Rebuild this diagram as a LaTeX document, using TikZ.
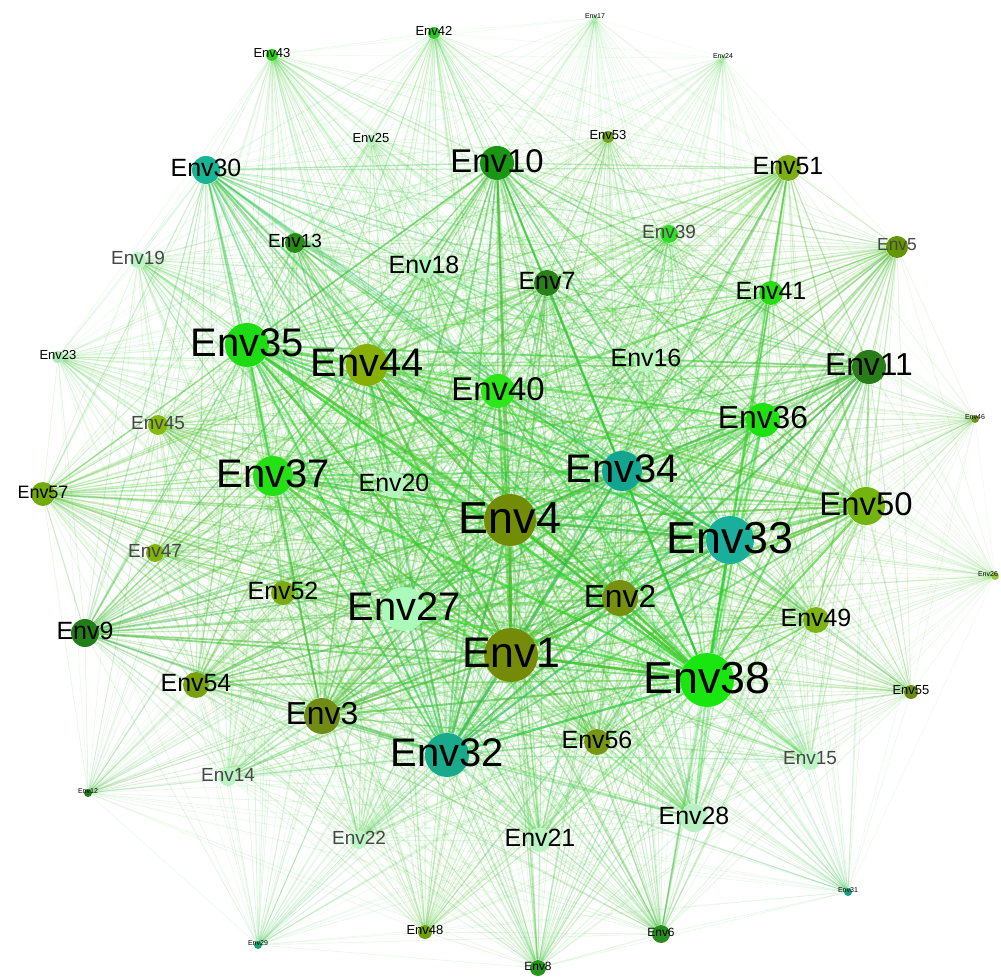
\documentclass[tikz,border=0pt]{standalone}
\usepackage{fontspec}
\setmainfont{Liberation Sans}
\pgfdeclarelayer{edges}
\pgfsetlayers{edges,main}
\definecolor{c1}{RGB}{118,138,10}
\definecolor{c2}{RGB}{118,145,15}
\definecolor{c3}{RGB}{112,140,20}
\definecolor{c4}{RGB}{115,140,5}
\definecolor{c5}{RGB}{100,150,0}
\definecolor{c6}{RGB}{40,140,30}
\definecolor{c7}{RGB}{40,130,25}
\definecolor{c8}{RGB}{40,150,30}
\definecolor{c9}{RGB}{35,125,25}
\definecolor{c10}{RGB}{25,150,20}
\definecolor{c11}{RGB}{40,125,25}
\definecolor{c12}{RGB}{30,120,30}
\definecolor{c13}{RGB}{40,140,20}
\definecolor{c14}{RGB}{185,245,195}
\definecolor{c15}{RGB}{190,245,200}
\definecolor{c16}{RGB}{185,245,190}
\definecolor{c17}{RGB}{170,235,170}
\definecolor{c18}{RGB}{180,245,190}
\definecolor{c19}{RGB}{185,245,195}
\definecolor{c20}{RGB}{180,245,190}
\definecolor{c21}{RGB}{185,245,195}
\definecolor{c22}{RGB}{190,245,200}
\definecolor{c23}{RGB}{170,235,180}
\definecolor{c24}{RGB}{170,235,170}
\definecolor{c25}{RGB}{180,240,190}
\definecolor{c26}{RGB}{150,200,60}
\definecolor{c27}{RGB}{170,250,185}
\definecolor{c28}{RGB}{185,240,195}
\definecolor{c29}{RGB}{20,160,120}
\definecolor{c30}{RGB}{25,180,150}
\definecolor{c31}{RGB}{20,160,130}
\definecolor{c32}{RGB}{25,170,140}
\definecolor{c33}{RGB}{25,175,155}
\definecolor{c34}{RGB}{20,165,145}
\definecolor{c35}{RGB}{30,220,20}
\definecolor{c36}{RGB}{30,225,15}
\definecolor{c37}{RGB}{35,225,20}
\definecolor{c38}{RGB}{25,230,15}
\definecolor{c39}{RGB}{50,220,40}
\definecolor{c40}{RGB}{45,230,25}
\definecolor{c41}{RGB}{40,220,20}
\definecolor{c42}{RGB}{45,200,35}
\definecolor{c43}{RGB}{45,210,25}
\definecolor{c44}{RGB}{135,175,5}
\definecolor{c45}{RGB}{135,185,15}
\definecolor{c46}{RGB}{110,150,20}
\definecolor{c47}{RGB}{130,180,15}
\definecolor{c48}{RGB}{110,160,10}
\definecolor{c49}{RGB}{125,180,20}
\definecolor{c50}{RGB}{115,180,15}
\definecolor{c51}{RGB}{125,175,20}
\definecolor{c52}{RGB}{125,170,15}
\definecolor{c53}{RGB}{115,160,20}
\definecolor{c54}{RGB}{120,160,15}
\definecolor{c55}{RGB}{105,140,15}
\definecolor{c56}{RGB}{120,150,20}
\definecolor{c57}{RGB}{115,170,15}
\definecolor{dgray}{RGB}{70,70,70}
\definecolor{egreen}{RGB}{50,205,50}
\tikzset{
  envnode/.style={circle, inner sep=0pt, draw=none},
  envlabel/.style={inner sep=0pt},
}
\begin{document}
\begin{tikzpicture}[x=0.02cm,y=-0.02cm]
\useasboundingbox (0,0) rectangle (1001,979);
\foreach \n/\x/\y/\r/\fs/\tc/\lx in {
1/511/655/27/24.4/black/0,
2/620/598/18/18.1/black/0,
3/322/716/18/18.1/black/0,
4/510/520/26/25.5/black/0,
5/897/247/11/9.9/dgray/0,
6/661/934/9/6.8/black/0,
7/547/283/13/14.2/black/0,
8/538/968/8/6.8/black/0,
9/85/633/14/14.2/black/0,
10/497/163/17/18.7/black/0,
11/869/367/17/18.1/black/0,
12/88/793/4/4.0/black/0,
13/295/243/10/10.8/black/0,
14/228/777/9/10.8/dgray/0,
15/810/760/10/10.8/dgray/0,
16/646/360/12/14.2/black/0,
17/595/18/3/4.0/black/0,
18/424/267/11/14.2/black/0,
19/138/260/8/10.8/dgray/0,
20/394/485/13/14.2/black/0,
21/540/840/12/14.2/black/0,
22/359/840/9/10.8/dgray/0,
23/58/357/6/7.4/black/0,
24/723/58/3/4.0/black/0,
25/371/140/5/7.4/black/0,
26/995/576/4/4.0/black/-7,
27/404/609/22/22.7/black/0,
28/694/818/14/14.2/black/0,
29/258/945/4/4.0/black/0,
30/206/170/14/14.2/black/0,
31/848/892/4/4.0/black/0,
32/447/755/22/22.7/black/0,
33/730/540/24/25.5/black/0,
34/622/471/20/22.7/black/0,
35/247/345/22/22.7/black/0,
36/763/420/17/18.1/black/0,
37/273/476/20/22.7/black/0,
38/707/680/27/25.5/black/0,
39/669/234/9/10.8/dgray/0,
40/498/391/17/18.7/black/0,
41/771/293/12/14.2/black/0,
42/434/33/6/7.4/black/0,
43/272/55/6/7.4/black/0,
44/367/365/21/22.7/black/0,
45/158/425/10/10.8/dgray/0,
46/975/419/4/4.0/black/0,
47/155/553/9/10.8/dgray/0,
48/425/932/7/7.4/black/0,
49/816/620/13/14.2/black/0,
50/866/506/19/18.7/black/0,
51/788/168/13/14.2/black/0,
52/283/593/12/14.2/black/0,
53/608/137/6/7.4/black/0,
54/196/685/13/14.2/black/0,
55/911/692/7/7.4/black/0,
56/597/742/13/14.2/black/0,
57/43/494/12/10.2/black/0}{
  \expandafter\xdef\csname r\n\endcsname{\r}
  \node[envnode, fill=c\n, minimum size=2*\r*0.02cm] (Env\n) at (\x,\y) {};
  \node[envlabel, text=\tc, font=\fontsize{\fs}{\fs}\selectfont] (L\n) at (\x+\lx,\y-2) {Env\n};
}
\begin{pgfonlayer}{edges}
\foreach \i in {1,...,57}{
  \foreach \j in {1,...,57}{
    \ifnum\j>\i\relax
      \edef\ri{\csname r\i\endcsname}\edef\rj{\csname r\j\endcsname}
      \pgfmathsetmacro\p{\ri*\rj/729}
      \pgfmathsetmacro\op{min(0.9,0.07+0.8*\p)}
      \pgfmathsetmacro\lw{0.35+1.2*\p}
      \draw[draw=c\i!50!c\j!45!egreen, draw opacity=\op, line width=\lw pt] (Env\i) -- (Env\j);
    \fi
  }
}
\end{pgfonlayer}
\end{tikzpicture}
\end{document}
